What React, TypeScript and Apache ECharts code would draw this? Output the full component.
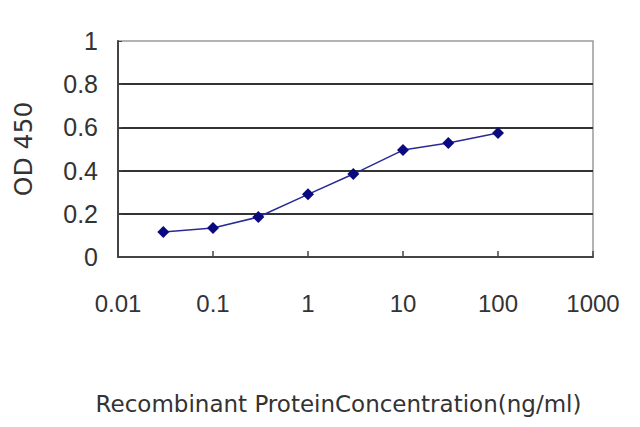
import React, { useRef, useEffect } from 'react';
import * as echarts from 'echarts';

// concentration (ng/ml) and measured OD 450
const concentrations = [0.03, 0.1, 0.3, 1, 3, 10, 30, 100];
const odValues = [0.116, 0.134, 0.185, 0.29, 0.384, 0.495, 0.528, 0.574];

const yTicks = [0, 0.2, 0.4, 0.6, 0.8, 1];
const xTicks = [0.01, 0.1, 1, 10, 100, 1000];

const FONT = '"Liberation Sans", Arial, sans-serif';
const WIDE_FONT = '"DejaVu Sans", sans-serif';

const App: React.FC = () => {
  const chartRef = useRef<HTMLDivElement>(null);

  useEffect(() => {
    document.body.style.margin = '0';
    if (!chartRef.current) return;
    const chart = echarts.init(chartRef.current, undefined, { renderer: 'svg' });

    const option: echarts.EChartsOption = {
      animation: false,
      backgroundColor: '#fff',
      grid: {
        left: 118,
        right: 47,
        top: 41,
        bottom: 170,
        show: true,
        borderColor: '#9a9a9a',
        borderWidth: 1.5,
        backgroundColor: '#fff',
      },
      xAxis: {
        type: 'log',
        logBase: 10,
        min: xTicks[0],
        max: xTicks[xTicks.length - 1],
        name: 'Recombinant ProteinConcentration(ng/ml)',
        nameLocation: 'middle',
        nameGap: 135,
        nameTextStyle: {
          fontFamily: WIDE_FONT,
          fontSize: 23,
          color: '#333',
          padding: [0, 34, 0, 0],
        },
        axisLine: { lineStyle: { color: '#444', width: 2 } },
        axisTick: { inside: true, length: 6, lineStyle: { color: '#444', width: 1.5 } },
        axisLabel: {
          margin: 34,
          fontFamily: FONT,
          fontSize: 24,
          color: '#333',
          formatter: (v: number) => String(v),
        },
        splitLine: { show: false },
      },
      yAxis: {
        type: 'value',
        min: yTicks[0],
        max: yTicks[yTicks.length - 1],
        interval: 0.2,
        name: 'OD 450',
        nameLocation: 'middle',
        nameGap: 82,
        nameTextStyle: { fontFamily: WIDE_FONT, fontSize: 25, color: '#333' },
        axisLine: { show: true, lineStyle: { color: '#444', width: 2 } },
        axisTick: { show: true, inside: true, length: 4, lineStyle: { color: '#444' } },
        axisLabel: {
          margin: 20,
          fontFamily: FONT,
          fontSize: 25,
          color: '#333',
          formatter: (v: number) => String(Number(v.toFixed(1))),
        },
        splitLine: {
          show: true,
          showMaxLine: false,
          lineStyle: { color: '#333', width: 2 },
        },
      },
      series: [
        {
          type: 'line',
          data: concentrations.map((c, i) => [c, odValues[i]]),
          symbol: 'diamond',
          symbolSize: 12,
          lineStyle: { color: '#2a2a96', width: 1.5 },
          itemStyle: { color: '#0a0a80' },
        },
      ],
    };

    chart.setOption(option);
    return () => {
      chart.dispose();
    };
  }, []);

  return <div ref={chartRef} style={{ width: 640, height: 427 }} />;
};

export default App;
